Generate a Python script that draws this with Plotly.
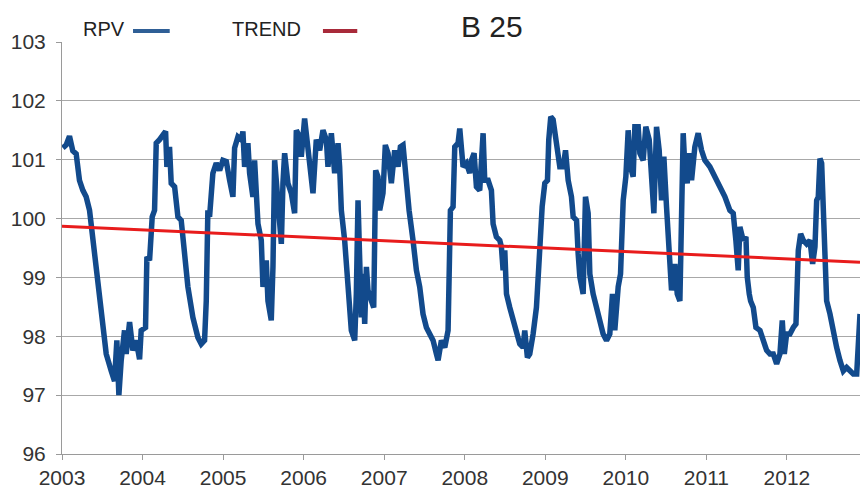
import plotly.graph_objects as go

# ---- data ----
rpv_year = [
    2003.010, 2003.052, 2003.093, 2003.134, 2003.176, 2003.217, 2003.259, 2003.300, 2003.342, 2003.383,
    2003.424, 2003.466, 2003.507, 2003.549, 2003.611, 2003.652, 2003.681, 2003.706, 2003.735, 2003.776,
    2003.797, 2003.839, 2003.880, 2003.921, 2003.963, 2003.983, 2004.037, 2004.054, 2004.087, 2004.120,
    2004.149, 2004.170, 2004.211, 2004.253, 2004.286, 2004.302, 2004.335, 2004.356, 2004.398, 2004.439,
    2004.480, 2004.522, 2004.563, 2004.625, 2004.687, 2004.729, 2004.770, 2004.791, 2004.811, 2004.832,
    2004.873, 2004.915, 2004.957, 2004.998, 2005.040, 2005.081, 2005.122, 2005.143, 2005.184, 2005.226,
    2005.246, 2005.267, 2005.308, 2005.329, 2005.370, 2005.391, 2005.433, 2005.474, 2005.495, 2005.536,
    2005.557, 2005.598, 2005.619, 2005.640, 2005.673, 2005.702, 2005.723, 2005.743, 2005.764, 2005.805,
    2005.847, 2005.888, 2005.909, 2005.950, 2005.971, 2006.012, 2006.054, 2006.095, 2006.116, 2006.157,
    2006.199, 2006.240, 2006.282, 2006.302, 2006.344, 2006.385, 2006.427, 2006.447, 2006.468, 2006.509,
    2006.551, 2006.571, 2006.592, 2006.634, 2006.654, 2006.675, 2006.696, 2006.716, 2006.737, 2006.758,
    2006.779, 2006.799, 2006.841, 2006.870, 2006.894, 2006.923, 2006.944, 2006.985, 2007.014, 2007.048,
    2007.089, 2007.130, 2007.172, 2007.201, 2007.234, 2007.267, 2007.309, 2007.358, 2007.400, 2007.441,
    2007.482, 2007.524, 2007.565, 2007.607, 2007.648, 2007.669, 2007.710, 2007.752, 2007.793, 2007.814,
    2007.822, 2007.855, 2007.876, 2007.917, 2007.938, 2007.979, 2008.021, 2008.062, 2008.083, 2008.116,
    2008.145, 2008.186, 2008.228, 2008.248, 2008.290, 2008.331, 2008.352, 2008.393, 2008.435, 2008.455,
    2008.476, 2008.497, 2008.518, 2008.559, 2008.600, 2008.642, 2008.683, 2008.724, 2008.745, 2008.778,
    2008.807, 2008.849, 2008.890, 2008.919, 2008.940, 2008.961, 2008.994, 2009.027, 2009.043, 2009.068,
    2009.097, 2009.126, 2009.151, 2009.180, 2009.222, 2009.251, 2009.284, 2009.325, 2009.346, 2009.388,
    2009.408, 2009.429, 2009.470, 2009.499, 2009.532, 2009.553, 2009.594, 2009.636, 2009.677, 2009.718,
    2009.760, 2009.801, 2009.834, 2009.863, 2009.905, 2009.934, 2009.967, 2010.000, 2010.029, 2010.058,
    2010.091, 2010.112, 2010.153, 2010.174, 2010.215, 2010.248, 2010.290, 2010.319, 2010.348, 2010.381,
    2010.414, 2010.443, 2010.472, 2010.505, 2010.538, 2010.567, 2010.609, 2010.638, 2010.671, 2010.692,
    2010.712, 2010.733, 2010.762, 2010.787, 2010.816, 2010.857, 2010.898, 2010.940, 2010.981, 2011.043,
    2011.106, 2011.168, 2011.230, 2011.292, 2011.333, 2011.366, 2011.395, 2011.416, 2011.457, 2011.491,
    2011.507, 2011.532, 2011.549, 2011.582, 2011.615, 2011.665, 2011.706, 2011.748, 2011.789, 2011.830,
    2011.872, 2011.913, 2011.942, 2011.967, 2011.996, 2012.037, 2012.079, 2012.112, 2012.141, 2012.170,
    2012.203, 2012.244, 2012.286, 2012.319, 2012.348, 2012.369, 2012.389, 2012.410, 2012.431, 2012.451,
    2012.472, 2012.493, 2012.534, 2012.576, 2012.617, 2012.658, 2012.700, 2012.741, 2012.783, 2012.824,
    2012.866, 2012.886, 2012.907,
]
rpv_value = [
    101.20, 101.25, 101.40, 101.15, 101.10, 100.65, 100.48, 100.37, 100.14, 99.63,
    99.06, 98.60, 98.10, 97.70, 97.41, 97.24, 97.93, 97.00, 97.59, 98.10,
    97.70, 98.24, 97.76, 97.93, 97.61, 98.10, 98.15, 99.35, 99.29, 100.03,
    100.14, 101.28, 101.34, 101.40, 101.48, 100.88, 101.22, 100.60, 100.54, 100.03,
    99.97, 99.40, 98.84, 98.32, 97.98, 97.87, 97.93, 98.60, 100.14, 100.03,
    100.77, 100.94, 100.82, 100.99, 100.97, 100.65, 100.37, 101.20, 101.39, 101.34,
    101.48, 100.88, 101.28, 100.77, 100.37, 100.99, 99.91, 99.63, 98.84, 99.29,
    98.60, 98.27, 99.18, 100.99, 100.31, 99.74, 99.57, 100.60, 101.11, 100.60,
    100.43, 100.09, 101.50, 101.39, 101.05, 101.70, 101.22, 100.71, 100.43, 101.34,
    101.16, 101.50, 101.34, 100.88, 101.45, 100.77, 101.28, 100.88, 100.14, 99.63,
    98.95, 98.60, 98.10, 97.93, 98.72, 100.31, 98.60, 98.32, 99.06, 98.21,
    99.18, 98.78, 98.60, 98.49, 100.82, 100.71, 100.14, 100.43, 101.25, 101.11,
    100.60, 101.16, 100.88, 101.22, 101.25, 100.65, 100.14, 99.63, 99.12, 98.84,
    98.38, 98.15, 98.04, 97.93, 97.70, 97.59, 97.93, 97.81, 98.10, 99.18,
    100.14, 100.20, 101.22, 101.28, 101.53, 100.88, 100.94, 100.77, 100.99, 101.11,
    100.54, 100.48, 101.45, 100.65, 100.65, 100.48, 99.91, 99.69, 99.63, 99.52,
    99.12, 99.46, 98.72, 98.49, 98.27, 98.04, 97.87, 97.81, 98.10, 97.64,
    97.70, 98.04, 98.49, 99.18, 100.03, 100.20, 100.60, 100.65, 101.34, 101.73,
    101.68, 101.34, 101.11, 100.88, 100.88, 101.16, 100.65, 100.37, 100.03, 99.97,
    99.40, 99.01, 98.72, 100.37, 100.09, 99.06, 98.72, 98.49, 98.27, 98.04,
    97.93, 98.04, 98.72, 98.10, 98.84, 99.06, 100.31, 100.71, 101.50, 100.88,
    100.71, 101.56, 101.56, 101.11, 100.99, 101.56, 101.34, 100.54, 100.09, 101.56,
    101.16, 100.31, 101.05, 100.20, 99.46, 98.78, 99.23, 98.72, 98.60, 100.31,
    101.45, 100.88, 100.60, 101.11, 100.65, 101.22, 101.45, 101.16, 100.99, 100.88,
    100.71, 100.54, 100.37, 100.14, 100.09, 99.63, 99.12, 99.86, 99.63, 99.69,
    99.01, 98.72, 98.60, 98.49, 98.15, 98.10, 97.93, 97.76, 97.70, 97.70,
    97.53, 97.70, 98.27, 97.70, 98.04, 98.04, 98.15, 98.21, 99.46, 99.74,
    99.63, 99.57, 99.63, 99.23, 99.52, 100.31, 100.37, 101.02, 100.94, 100.03,
    99.46, 98.60, 98.38, 98.04, 97.81, 97.59, 97.41, 97.47, 97.41, 97.36,
    97.36, 98.04, 98.38,
]
trend_year = [2003.0, 2012.907]
trend_value = [99.87, 99.26]

year_ticks = [2003, 2004, 2005, 2006, 2007, 2008, 2009, 2010, 2011, 2012]
value_ticks = [96, 97, 98, 99, 100, 101, 102, 103]

series_names = ["RPV", "TREND"]
chart_title = "B 25"

BLUE = "#124a8c"
RED = "#e81c1c"
FONT = "Liberation Sans, Arial, sans-serif"

fig = go.Figure()
fig.add_trace(go.Scatter(x=rpv_year, y=rpv_value, mode="lines", name=series_names[0],
                         line=dict(color=BLUE, width=5.5), showlegend=False))
fig.add_trace(go.Scatter(x=trend_year, y=trend_value, mode="lines", name=series_names[1],
                         line=dict(color=RED, width=3), showlegend=False))

# Excel-style legend (text before sample line) and title
fig.add_annotation(x=0.024, y=1.032, xref="paper", yref="paper", text=series_names[0],
                   showarrow=False, xanchor="left", yanchor="middle",
                   font=dict(family=FONT, size=20, color="#222"))
fig.add_shape(type="line", xref="paper", yref="paper", x0=0.089, x1=0.135, y0=1.027, y1=1.027,
              line=dict(color="#2f5f96", width=4))
fig.add_annotation(x=0.211, y=1.032, xref="paper", yref="paper", text=series_names[1],
                   showarrow=False, xanchor="left", yanchor="middle",
                   font=dict(family=FONT, size=20, color="#222"))
fig.add_shape(type="line", xref="paper", yref="paper", x0=0.327, x1=0.370, y0=1.027, y1=1.027,
              line=dict(color="#a82a3a", width=4))
fig.add_annotation(x=0.497, y=1.038, xref="paper", yref="paper", text=chart_title,
                   showarrow=False, xanchor="left", yanchor="middle",
                   font=dict(family=FONT, size=30, color="#222"))

fig.update_layout(
    width=860, height=490,
    margin=dict(l=62, r=0, t=42, b=36, autoexpand=False),
    paper_bgcolor="white", plot_bgcolor="white",
    showlegend=False,
)
fig.update_xaxes(
    range=[2003, 2012.907], tickmode="array", tickvals=year_ticks,
    ticktext=[str(y) for y in year_ticks],
    showgrid=False, zeroline=False, automargin=False,
    showline=True, linecolor="#9a9a9a", linewidth=1,
    ticks="outside", ticklen=5, tickcolor="#9a9a9a",
    tickfont=dict(family=FONT, size=21, color="#333"),
)
fig.update_yaxes(
    range=[96, 103], tickmode="array", tickvals=value_ticks,
    showgrid=True, gridcolor="#a8a8a8", gridwidth=1, zeroline=False, automargin=False,
    showline=True, linecolor="#9a9a9a", linewidth=1,
    ticks="outside", ticklen=5, tickcolor="#9a9a9a",
    ticklabelstandoff=6,
    tickfont=dict(family=FONT, size=21, color="#333"),
)

fig.write_html(
    "out.html",
    config={"displayModeBar": False},
    post_script="document.body.style.margin='0';document.body.style.overflow='hidden';",
)
